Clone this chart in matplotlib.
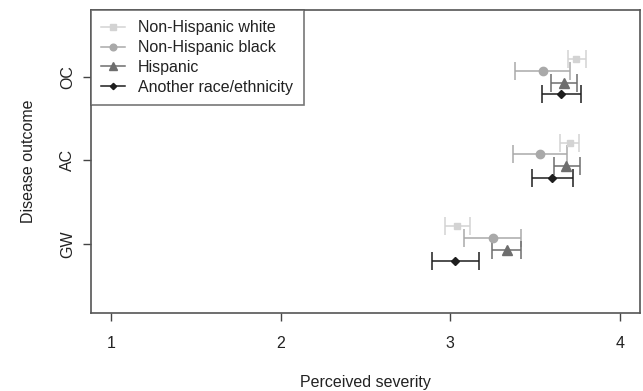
import numpy as np
import matplotlib.pyplot as plt
from matplotlib.lines import Line2D

plt.rcParams['font.family'] = ['Liberation Sans', 'DejaVu Sans']

outcomes = ['GW', 'AC', 'OC']
groups = ['Non-Hispanic white', 'Non-Hispanic black', 'Hispanic', 'Another race/ethnicity']

# mean, lower, upper per group; rows follow outcomes (GW, AC, OC)
white_mean = [3.04, 3.705, 3.745]
white_lo = [2.97, 3.65, 3.695]
white_hi = [3.115, 3.76, 3.80]

black_mean = [3.25, 3.53, 3.545]
black_lo = [3.08, 3.37, 3.385]
black_hi = [3.42, 3.69, 3.705]

hisp_mean = [3.335, 3.685, 3.67]
hisp_lo = [3.245, 3.61, 3.595]
hisp_hi = [3.42, 3.765, 3.75]

other_mean = [3.03, 3.60, 3.655]
other_lo = [2.89, 3.48, 3.54]
other_hi = [3.17, 3.725, 3.77]

colors = ['#d3d3d3', '#a9a9a9', '#6e6e6e', '#1e1e1e']
markers = ['s', 'o', '^', 'D']
msizes = [5, 6, 7, 4]
offsets = [0.21, 0.07, -0.07, -0.21]

fig = plt.figure(figsize=(6.43, 3.91), dpi=100)
ax = fig.add_axes([91/643, 78/391, 549/643, 303/391])

base = np.arange(1, len(outcomes) + 1)
series = [(white_mean, white_lo, white_hi), (black_mean, black_lo, black_hi),
          (hisp_mean, hisp_lo, hisp_hi), (other_mean, other_lo, other_hi)]

for i, (m, lo, hi) in enumerate(series):
    m = np.array(m)
    err = [m - np.array(lo), np.array(hi) - m]
    ax.errorbar(m, base + offsets[i], xerr=err, fmt=markers[i], color=colors[i],
                ms=msizes[i], mec=colors[i], ecolor=colors[i], elinewidth=1.1,
                capsize=6.5, capthick=1.1)

ax.set_xlim(0.88, 4.12)
ax.set_ylim(0.17, 3.8)
ax.set_xticks([1, 2, 3, 4])
ax.set_yticks(base)
ax.set_yticklabels(outcomes, rotation=90, va='center')
ax.tick_params(axis='both', colors='#444444', labelcolor='#222222', labelsize=11.5,
               length=5.5, width=1)
ax.tick_params(axis='x', pad=11)
ax.tick_params(axis='y', pad=6)
for s in ax.spines.values():
    s.set_color('#555555')
    s.set_linewidth(1.2)

ax.set_xlabel('Perceived severity', fontsize=11.5, color='#222222', labelpad=17)
ax.set_ylabel('Disease outcome', fontsize=11.5, color='#222222', labelpad=17)

handles = [Line2D([], [], color=colors[i], marker=markers[i], ms=msizes[i] * 0.8,
                  lw=1.1) for i in range(len(groups))]
leg = ax.legend(handles, groups, loc='upper left', fontsize=11.5, frameon=True,
                fancybox=False, borderaxespad=0, handlelength=1.5,
                handletextpad=0.8, labelspacing=0.3, borderpad=0.65)
leg.get_frame().set_edgecolor('#555555')
leg.get_frame().set_linewidth(1.2)
for t in leg.get_texts():
    t.set_color('#222222')

plt.savefig('out.png', dpi=100)
plt.close()
